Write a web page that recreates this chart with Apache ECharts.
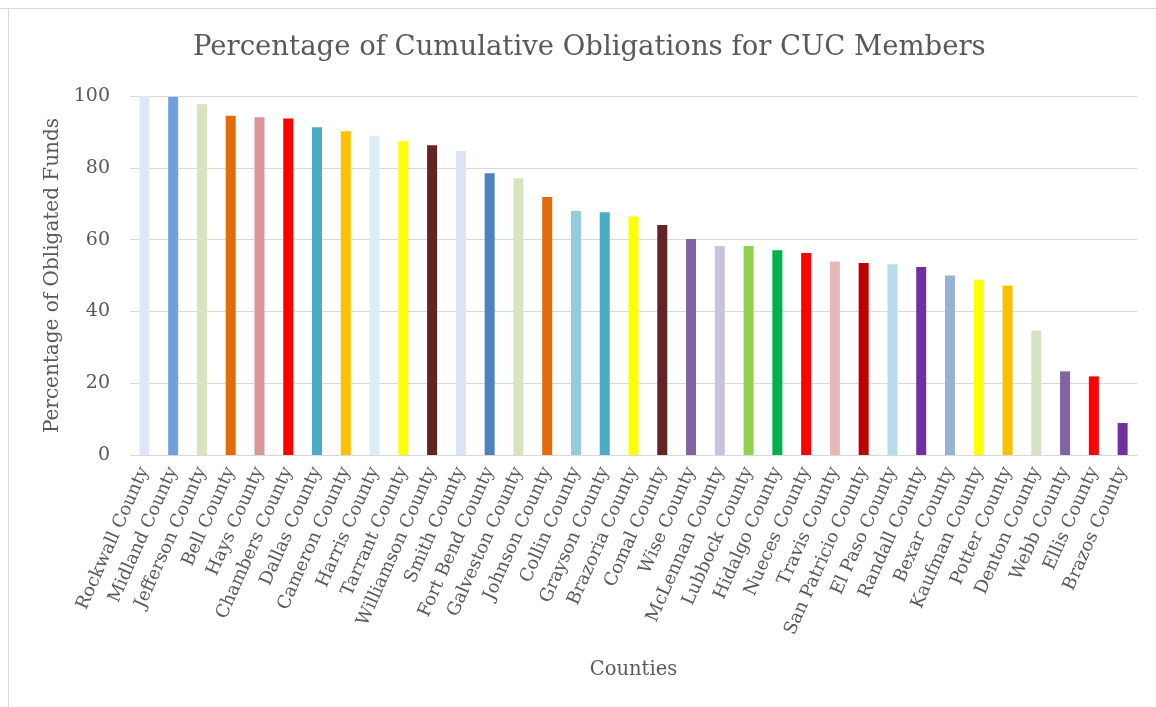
<!DOCTYPE html>
<html>
<head>
<meta charset="utf-8">
<script src="https://cdn.jsdelivr.net/npm/echarts@6/dist/echarts.min.js"></script>
<style>
  html, body { margin: 0; padding: 0; background: #fff; }
  #chart { width: 1156px; height: 707px; }
</style>
</head>
<body>
<div id="chart"></div>
<script>
  // counties, sorted by obligation percentage
  var counties = [
    'Rockwall County', 'Midland County', 'Jefferson County', 'Bell County', 'Hays County',
    'Chambers County', 'Dallas County', 'Cameron County', 'Harris County', 'Tarrant County',
    'Williamson County', 'Smith County', 'Fort Bend County', 'Galveston County', 'Johnson County',
    'Collin County', 'Grayson County', 'Brazoria County', 'Comal County', 'Wise County',
    'McLennan County', 'Lubbock County', 'Hidalgo County', 'Nueces County', 'Travis County',
    'San Patricio County', 'El Paso County', 'Randall County', 'Bexar County', 'Kaufman County',
    'Potter County', 'Denton County', 'Webb County', 'Ellis County', 'Brazos County'
  ];
  var percents = [
    100, 99.7, 97.7, 94.5, 94.1,
    93.7, 91.3, 90.2, 88.9, 87.4,
    86.3, 84.7, 78.5, 77.1, 71.9,
    68.0, 67.6, 66.4, 64.1, 60.2,
    58.2, 58.2, 57.0, 56.3, 53.9,
    53.5, 53.1, 52.4, 50.0, 48.8,
    47.2, 34.7, 23.3, 21.9, 8.9
  ];
  var barColors = [
    '#dfe7f6', '#6fa0dc', '#d7e4bd', '#e36c0a', '#d99694',
    '#ff0000', '#4bacc6', '#ffc000', '#daeef3', '#ffff00',
    '#632423', '#dbe5f1', '#4f81bd', '#d7e4bd', '#e36c0a',
    '#92cddc', '#4bacc6', '#ffff00', '#632423', '#8064a2',
    '#ccc1da', '#92d050', '#00b050', '#ff0000', '#e6b9b8',
    '#c00000', '#b7dee8', '#7030a0', '#95b3d7', '#ffff00',
    '#ffc000', '#d7e4bd', '#8064a2', '#ff0000', '#7030a0'
  ];
  var yTicks = [0, 20, 40, 60, 80, 100];

  var chart = echarts.init(document.getElementById('chart'));
  var serif = 'DejaVu Serif';

  chart.setOption({
    animation: false,
    title: {
      text: 'Percentage of Cumulative Obligations for CUC Members',
      left: 188,
      top: 29,
      textStyle: { fontFamily: serif, fontSize: 27.5, fontWeight: 'normal', color: '#595959' }
    },
    graphic: [
      { type: 'line', shape: { x1: 0, y1: 8.5, x2: 1156, y2: 8.5 }, style: { stroke: '#d9d9d9', lineWidth: 1 } },
      { type: 'line', shape: { x1: 8.5, y1: 8, x2: 8.5, y2: 707 }, style: { stroke: '#d9d9d9', lineWidth: 1 } }
    ],
    grid: { left: 130, right: 19, top: 96, bottom: 252, containLabel: false },
    xAxis: {
      type: 'category',
      data: counties,
      name: 'Counties',
      nameLocation: 'middle',
      nameGap: 205,
      nameTextStyle: { fontFamily: serif, fontSize: 19.5, color: '#595959' },
      axisLine: { lineStyle: { color: '#d9d9d9' } },
      axisTick: { show: false },
      axisLabel: {
        interval: 0,
        rotate: 66,
        margin: 13,
        fontFamily: serif,
        fontSize: 18,
        color: '#595959'
      }
    },
    yAxis: {
      type: 'value',
      min: yTicks[0],
      max: yTicks[yTicks.length - 1],
      interval: 20,
      name: 'Percentage of Obligated Funds',
      nameLocation: 'middle',
      nameGap: 66,
      nameTextStyle: { fontFamily: serif, fontSize: 20, color: '#595959' },
      axisLine: { show: false },
      axisTick: { show: false },
      axisLabel: { margin: 20, fontFamily: serif, fontSize: 19, color: '#595959' },
      splitLine: { lineStyle: { color: '#d9d9d9' } }
    },
    series: [{
      type: 'bar',
      barWidth: 10,
      data: percents.map(function (v, i) {
        return { value: v, itemStyle: { color: barColors[i] } };
      })
    }]
  });
</script>
</body>
</html>
